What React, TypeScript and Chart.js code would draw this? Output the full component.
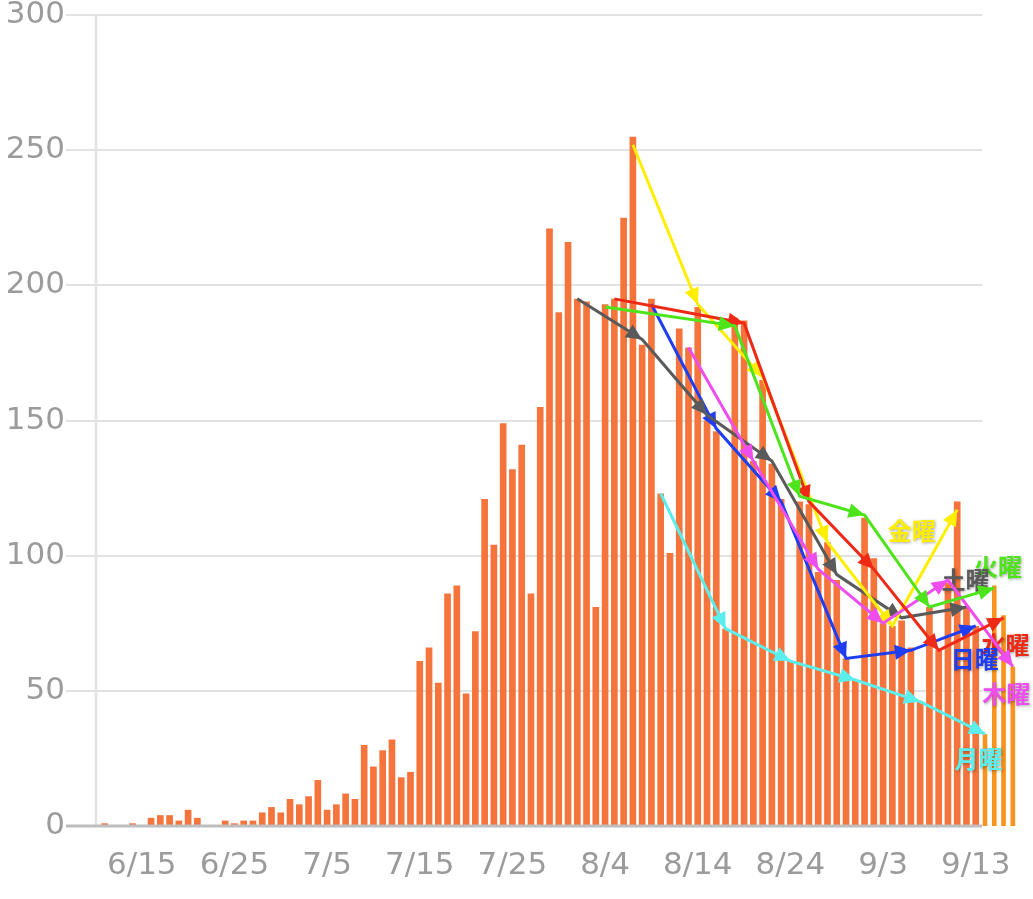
import React, { useEffect, useRef } from 'react';
import { Chart, registerables } from 'chart.js';

Chart.register(...registerables);

// Daily dates shown on the x axis (2020-06-11 .. 2020-09-17)
const dates = [
  '6/11','6/12','6/13','6/14','6/15','6/16','6/17','6/18','6/19','6/20',
  '6/21','6/22','6/23','6/24','6/25','6/26','6/27','6/28','6/29','6/30',
  '7/1','7/2','7/3','7/4','7/5','7/6','7/7','7/8','7/9','7/10',
  '7/11','7/12','7/13','7/14','7/15','7/16','7/17','7/18','7/19','7/20',
  '7/21','7/22','7/23','7/24','7/25','7/26','7/27','7/28','7/29','7/30','7/31',
  '8/1','8/2','8/3','8/4','8/5','8/6','8/7','8/8','8/9','8/10',
  '8/11','8/12','8/13','8/14','8/15','8/16','8/17','8/18','8/19','8/20',
  '8/21','8/22','8/23','8/24','8/25','8/26','8/27','8/28','8/29','8/30','8/31',
  '9/1','9/2','9/3','9/4','9/5','9/6','9/7','9/8','9/9','9/10',
  '9/11','9/12','9/13','9/14','9/15','9/16','9/17',
];

// Tick labels shown under the axis
const tickLabels = ['6/15','6/25','7/5','7/15','7/25','8/4','8/14','8/24','9/3','9/13'];

// Daily cases, 6/11 .. 9/13 (original chart)
const dailyCases = [
  1, 0, 0, 1, 0, 3, 4, 4, 2, 6,
  3, 0, 0, 2, 1, 2, 2, 5, 7, 5,
  10, 8, 11, 17, 6, 8, 12, 10, 30, 22,
  28, 32, 18, 20, 61, 66, 53, 86, 89, 49,
  72, 121, 104, 149, 132, 141, 86, 155, 221, 190, 216,
  195, 194, 81, 193, 195, 225, 255, 178, 195, 123,
  101, 184, 177, 192, 150, 146, 73, 188, 187, 135,
  165, 134, 121, 61, 120, 119, 94, 105, 91, 62, 54,
  114, 99, 75, 74, 76, 66, 46, 81, 65, 90,
  120, 81, 74,
];

// Added days, 9/14 .. 9/17
const addedDates = ['9/14', '9/15', '9/16', '9/17'];
const addedCases = [34, 89, 78, 59];

// Weekday trend arrows
const monDates = ['8/10', '8/17', '8/24', '8/31', '9/7', '9/14'];
const monValues = [123, 73, 61, 54, 46, 34];
const tueDates = ['8/4', '8/18', '8/25', '9/1', '9/8', '9/15'];
const tueValues = [192, 185, 122, 115, 81, 88];
const wedDates = ['8/5', '8/19', '8/26', '9/2', '9/9', '9/16'];
const wedValues = [195, 186, 120, 95, 65, 77];
const thuDates = ['8/13', '8/20', '8/27', '9/3', '9/10', '9/17'];
const thuValues = [177, 135, 95, 75, 91, 59];
const friDates = ['8/7', '8/14', '8/21', '8/28', '9/4', '9/11'];
const friValues = [252, 193, 166, 105, 74, 117];
const satDates = ['8/1', '8/8', '8/15', '8/22', '8/29', '9/5', '9/12'];
const satValues = [195, 180, 152, 135, 93, 77, 81];
const sunDates = ['8/9', '8/16', '8/23', '8/30', '9/6', '9/13'];
const sunValues = [193, 147, 120, 62, 65, 74];

const weekdayNames = ['月曜', '火曜', '水曜', '木曜', '金曜', '土曜', '日曜'];

const idx = (d: string) => dates.indexOf(d);
const toPoints = (ds: string[], vs: number[]) => ds.map((d, i) => ({ x: idx(d), y: vs[i] }));

const series = [
  { name: weekdayNames[0], color: '#5CEDED', pts: toPoints(monDates, monValues), at: [94.3, 25] },
  { name: weekdayNames[1], color: '#4EE41C', pts: toPoints(tueDates, tueValues), at: [96.4, 96] },
  { name: weekdayNames[2], color: '#EE2A16', pts: toPoints(wedDates, wedValues), at: [97.2, 67] },
  { name: weekdayNames[3], color: '#EE4EEE', pts: toPoints(thuDates, thuValues), at: [97.3, 49] },
  { name: weekdayNames[4], color: '#FFEE00', pts: toPoints(friDates, friValues), at: [87.1, 109] },
  { name: weekdayNames[5], color: '#5A5A5A', pts: toPoints(satDates, satValues), at: [92.9, 91] },
  { name: weekdayNames[6], color: '#1F3DF2', pts: toPoints(sunDates, sunValues), at: [93.9, 62] },
];

const lastOriginalIndex = dailyCases.length - 1;

const decorPlugin = {
  id: 'decor',
  beforeDatasetsDraw(chart: any) {
    const { ctx, chartArea, scales } = chart;
    const xs = scales.x;
    const ys = scales.y;
    const endX = xs.getPixelForValue(lastOriginalIndex + 0.7);
    ctx.save();
    ctx.strokeStyle = '#e2e2e2';
    ctx.lineWidth = 2;
    ys.ticks.forEach((t: any) => {
      if (t.value === 0) return;
      const y = Math.round(ys.getPixelForValue(t.value));
      ctx.beginPath();
      ctx.moveTo(chartArea.left - 30, y);
      ctx.lineTo(endX, y);
      ctx.stroke();
    });
    ctx.lineWidth = 2.5;
    ctx.beginPath();
    ctx.moveTo(chartArea.left, ys.getPixelForValue(300));
    ctx.lineTo(chartArea.left, ys.getPixelForValue(0));
    ctx.stroke();
    // x tick labels, placed through the x scale
    ctx.fillStyle = '#9b9b9b';
    ctx.font = '31px "DejaVu Sans", sans-serif';
    ctx.textAlign = 'center';
    ctx.textBaseline = 'alphabetic';
    const yLab = ys.getPixelForValue(0) + 48;
    tickLabels.forEach((l) => {
      ctx.fillText(l, xs.getPixelForValue(idx(l)), yLab);
    });
    ctx.restore();
  },
  afterDatasetDraw(chart: any, args: any) {
    const { ctx, scales } = chart;
    const ds = chart.data.datasets[args.index];
    if (ds.role === 'added') {
      const xs = scales.x;
      const ys = scales.y;
      ctx.save();
      ctx.strokeStyle = '#bdbdbd';
      ctx.lineWidth = 3;
      const y0 = ys.getPixelForValue(0);
      ctx.beginPath();
      ctx.moveTo(chart.chartArea.left - 30, y0);
      ctx.lineTo(xs.getPixelForValue(lastOriginalIndex + 0.7), y0);
      ctx.stroke();
      ctx.font = 'bold 24px "Noto Sans CJK JP", sans-serif';
      ctx.textAlign = 'center';
      ctx.textBaseline = 'middle';
      ctx.shadowColor = 'rgba(0,0,0,0.35)';
      ctx.shadowBlur = 3;
      ctx.shadowOffsetX = 1;
      ctx.shadowOffsetY = 1;
      series.forEach((s) => {
        ctx.fillStyle = s.color;
        ctx.fillText(s.name, xs.getPixelForValue(s.at[0]), ys.getPixelForValue(s.at[1]));
      });
      ctx.restore();
    }
    if (ds.type === 'line') {
      const meta = chart.getDatasetMeta(args.index);
      const pts = meta.data;
      ctx.save();
      ctx.fillStyle = ds.borderColor;
      for (let i = 1; i < pts.length; i++) {
        const a = pts[i - 1];
        const b = pts[i];
        const ang = Math.atan2(b.y - a.y, b.x - a.x);
        const len = 16;
        const hw = 7.5;
        const bx = b.x - Math.cos(ang) * len;
        const by = b.y - Math.sin(ang) * len;
        ctx.beginPath();
        ctx.moveTo(b.x, b.y);
        ctx.lineTo(bx + Math.sin(ang) * hw, by - Math.cos(ang) * hw);
        ctx.lineTo(bx - Math.sin(ang) * hw, by + Math.cos(ang) * hw);
        ctx.closePath();
        ctx.fill();
      }
      ctx.restore();
    }
  },
};

export default function App() {
  const ref = useRef<HTMLCanvasElement | null>(null);

  useEffect(() => {
    if (!ref.current) return;
    const lineSets = series.map((s, i) => ({
      type: 'line',
      label: s.name,
      data: s.pts,
      borderColor: s.color,
      backgroundColor: s.color,
      borderWidth: 3,
      pointRadius: 0,
      tension: 0,
      fill: false,
      order: 1 + i,
    }));
    const chart = new Chart(ref.current, {
      type: 'bar',
      data: {
        datasets: [
          {
            type: 'bar',
            role: 'original',
            label: 'daily',
            data: dailyCases.map((v, i) => ({ x: i, y: v })),
            backgroundColor: '#F4743B',
            barPercentage: 0.72,
            categoryPercentage: 1,
            grouped: false,
            order: 20,
          },
          {
            type: 'bar',
            role: 'added',
            label: 'added',
            data: addedDates.map((d, i) => ({ x: idx(d), y: addedCases[i] })),
            backgroundColor: '#F7931E',
            barPercentage: 0.5,
            categoryPercentage: 1,
            grouped: false,
            order: 19,
          },
          ...lineSets,
        ] as any,
      },
      options: {
        animation: false,
        responsive: false,
        devicePixelRatio: 1,
        layout: { padding: { left: 0, right: 15, top: 15, bottom: 0 } },
        plugins: {
          legend: { display: false },
          tooltip: { enabled: false },
        },
        scales: {
          x: {
            type: 'linear',
            offset: false,
            min: -0.94,
            max: 98.56,
            grid: { display: false, drawTicks: false, offset: false },
            border: { display: false },
            afterFit: (scale: any) => {
              scale.height = 73;
              scale.paddingLeft = 0;
              scale.paddingRight = 0;
            },
            ticks: { display: false },
          },
          y: {
            min: 0,
            max: 300,
            grid: { display: false, drawTicks: false },
            border: { display: false },
            afterFit: (scale: any) => {
              scale.width = 96;
              scale.paddingTop = 0;
              scale.paddingBottom = 0;
            },
            ticks: {
              stepSize: 50,
              padding: 31,
              color: '#9b9b9b',
              font: { family: '"DejaVu Sans", sans-serif', size: 31, lineHeight: 1 },
            },
          },
        },
      } as any,
      plugins: [decorPlugin],
    });
    return () => chart.destroy();
  }, []);

  return (
    <div style={{ position: 'fixed', left: 0, top: 0, width: 1033, height: 899, background: '#fff' }}>
      <canvas ref={ref} width={1033} height={899} style={{ width: 1033, height: 899, display: 'block' }} />
    </div>
  );
}
